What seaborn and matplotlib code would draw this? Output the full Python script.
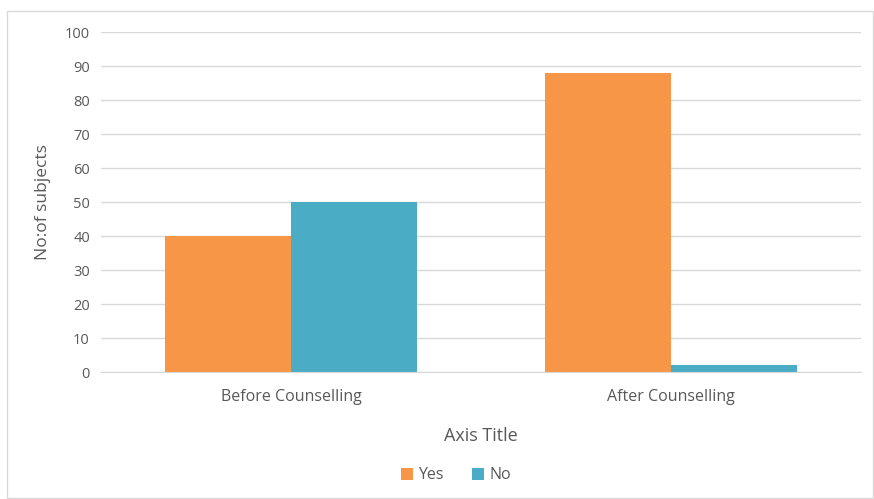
import matplotlib
matplotlib.use("Agg")
import matplotlib.pyplot as plt
from matplotlib.patches import Rectangle
import seaborn as sns
import pandas as pd

categories = ["Before Counselling", "After Counselling"]
yes_values = [40, 88]
no_values = [50, 2]
series_names = ["Yes", "No"]
y_ticks = [0, 10, 20, 30, 40, 50, 60, 70, 80, 90, 100]

df = pd.DataFrame({
    "category": categories * 2,
    "series": [series_names[0]] * 2 + [series_names[1]] * 2,
    "value": yes_values + no_values,
})

sns.set_style("white")
plt.rcParams["font.family"] = ["Open Sans", "DejaVu Sans"]

text_col = "#595959"
fig = plt.figure(figsize=(8.74, 4.99), dpi=100)
ax = fig.add_axes([101 / 874, 1 - 372 / 499, 760 / 874, 340 / 499])

sns.barplot(data=df, x="category", y="value", hue="series", order=categories,
            hue_order=series_names, palette=["#F79646", "#4BACC6"],
            width=0.664, gap=0, saturation=1, linewidth=0, ax=ax, legend=True)

ax.set_xlim(-0.5, 1.5)
ax.set_ylim(0, 100)
ax.set_yticks(y_ticks)
ax.yaxis.grid(True, color="#D9D9D9", linewidth=1)
ax.set_axisbelow(True)
for s in ["top", "right", "left"]:
    ax.spines[s].set_visible(False)
ax.spines["bottom"].set_color("#D9D9D9")
ax.tick_params(axis="both", length=0, colors=text_col)
ax.tick_params(axis="y", pad=8, labelsize=10.5)
ax.tick_params(axis="x", pad=12, labelsize=11.5)
ax.set_xlabel("Axis Title", color=text_col, fontsize=13, labelpad=16)
ax.set_ylabel("No:of subjects", color=text_col, fontsize=12.5, labelpad=10)

leg = ax.legend(loc="upper center", bbox_to_anchor=(0.467, -0.238), ncol=2,
                frameon=False, fontsize=11.5, handlelength=0.75, handleheight=0.75,
                handletextpad=0.3, columnspacing=1.8)
for t in leg.get_texts():
    t.set_color(text_col)

fig.patches.append(Rectangle((7 / 874, 1 - 498 / 499), 866 / 874, 487 / 499,
                             transform=fig.transFigure, fill=False,
                             edgecolor="#D9D9D9", linewidth=1))

fig.savefig("out.png", dpi=100)
